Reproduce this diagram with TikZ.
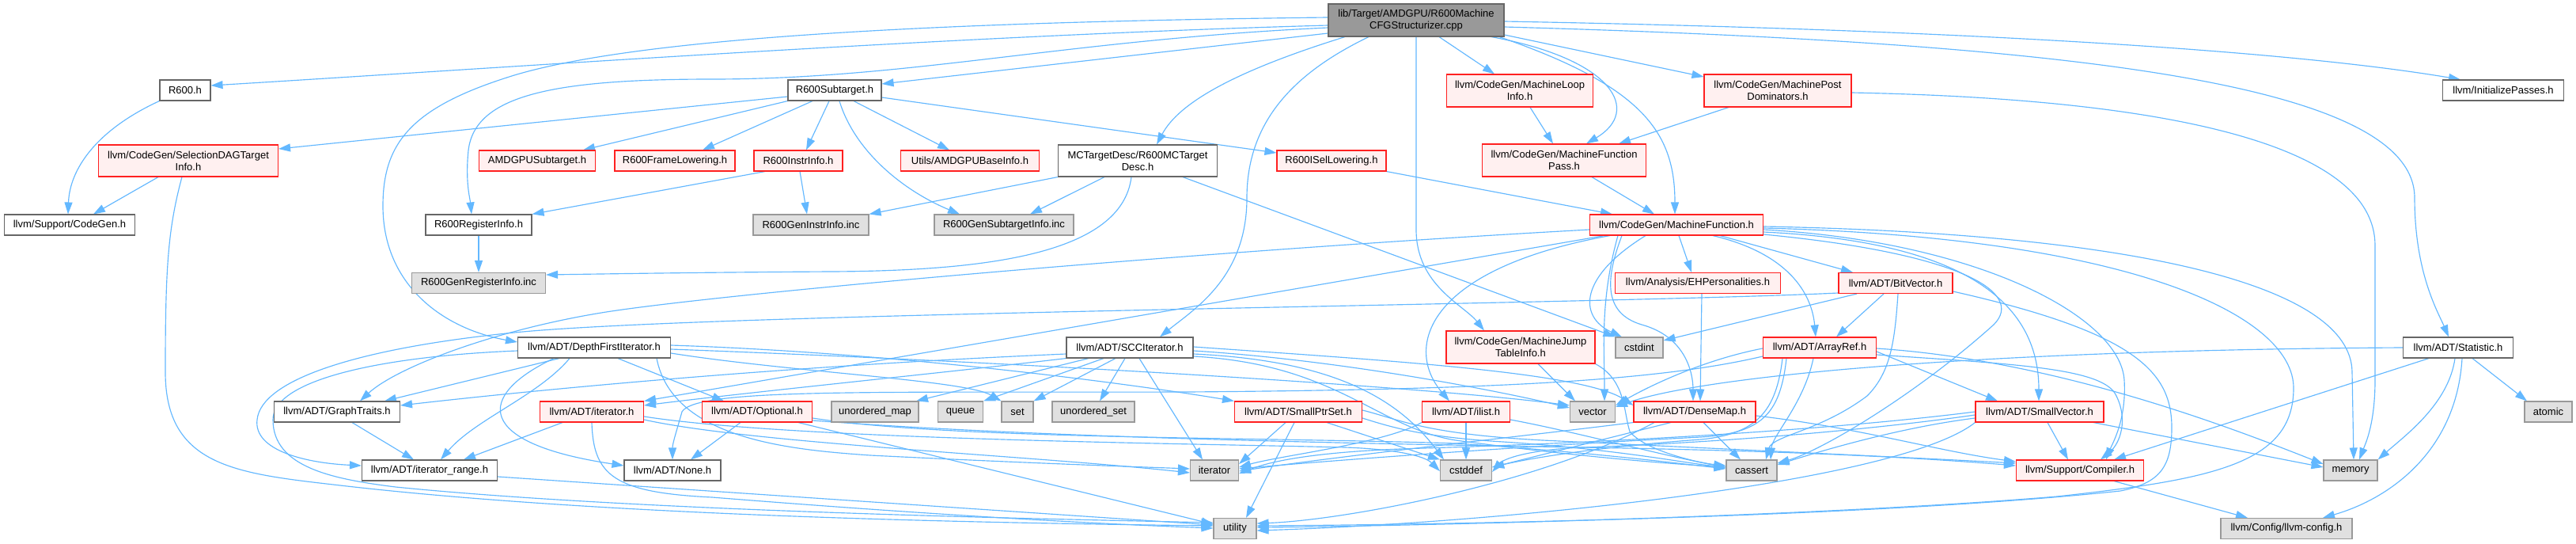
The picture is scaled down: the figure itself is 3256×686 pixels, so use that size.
\documentclass[tikz,border=0pt]{standalone}
\usepackage{fontspec}
\setmainfont{Liberation Sans}
\usetikzlibrary{arrows.meta}
\pgfdeclarelayer{back}
\pgfdeclarelayer{bg}
\pgfsetlayers{back,bg,main}
\definecolor{edgec}{HTML}{63B8FF}
\definecolor{redfill}{HTML}{FFF0F0}
\definecolor{redline}{HTML}{FF2020}
\definecolor{grayfill}{HTML}{E0E0E0}
\definecolor{grayline}{HTML}{999999}
\definecolor{darkline}{HTML}{666666}
\definecolor{topfill}{HTML}{999999}
\begin{document}
\begin{tikzpicture}[x=1pt,y=-1pt,
 box/.style={draw, line width=1.1pt, inner sep=0pt, minimum height=26pt, font=\fontsize{13}{15}\selectfont, align=center},
 wbox/.style={box, draw=darkline, fill=white},
 rbox/.style={box, draw=redline, fill=redfill},
 gbox/.style={box, draw=grayline, fill=grayfill},
 tbox/.style={box, draw=darkline, fill=topfill},
 dep/.style={draw=edgec, line width=1.15pt, -{Triangle[length=15pt,width=10pt]}},
]
\begin{pgfonlayer}{back}
\fill[white] (0,0) rectangle (3256,686);
\end{pgfonlayer}
\useasboundingbox (0,0) rectangle (3256,686);

% ---------- nodes ----------
\node[tbox, minimum width=222pt, minimum height=41pt] (T) at (1790,25.5) {lib/Target/AMDGPU/R600Machine\\CFGStructurizer.cpp};
\node[wbox, minimum width=64pt] (R600h) at (234,114) {R600.h};
\node[wbox, minimum width=118pt] (Sub) at (1055,114) {R600Subtarget.h};
\node[rbox, minimum width=185pt, minimum height=41pt] (MLI) at (1921,114.5) {llvm/CodeGen/MachineLoop\\Info.h};
\node[rbox, minimum width=186pt, minimum height=41pt] (MPD) at (2247,114.5) {llvm/CodeGen/MachinePost\\Dominators.h};
\node[wbox, minimum width=153pt] (IP) at (3164,114) {llvm/InitializePasses.h};
\node[rbox, minimum width=227pt, minimum height=40pt] (SDT) at (238,203) {llvm/CodeGen/SelectionDAGTarget\\Info.h};
\node[rbox, minimum width=147pt] (AMDSub) at (679,203) {AMDGPUSubtarget.h};
\node[rbox, minimum width=152pt] (FL) at (853,203) {R600FrameLowering.h};
\node[rbox, minimum width=112pt] (II) at (1009,203) {R600InstrInfo.h};
\node[rbox, minimum width=175pt] (BI) at (1226,203) {Utils/AMDGPUBaseInfo.h};
\node[wbox, minimum width=201pt, minimum height=40pt] (MCTD) at (1438,203) {MCTargetDesc/R600MCTarget\\Desc.h};
\node[rbox, minimum width=138pt] (ISel) at (1683,203) {R600ISelLowering.h};
\node[rbox, minimum width=207pt, minimum height=41pt] (MFP) at (1977,202.5) {llvm/CodeGen/MachineFunction\\Pass.h};
\node[wbox, minimum width=165pt] (CG) at (88,284) {llvm/Support/CodeGen.h};
\node[wbox, minimum width=134pt] (RI) at (605,284) {R600RegisterInfo.h};
\node[gbox, minimum width=146pt] (GII) at (1025,284) {R600GenInstrInfo.inc};
\node[gbox, minimum width=176pt] (GSI) at (1269,284) {R600GenSubtargetInfo.inc};
\node[rbox, minimum width=219pt] (MF) at (2119,284) {llvm/CodeGen/MachineFunction.h};
\node[gbox, minimum width=169pt] (GRI) at (605,357.5) {R600GenRegisterInfo.inc};
\node[rbox, minimum width=209pt] (EHP) at (2146,357.5) {llvm/Analysis/EHPersonalities.h};
\node[rbox, minimum width=144pt] (BV) at (2396,357.5) {llvm/ADT/BitVector.h};
\node[wbox, minimum width=193pt] (DFI) at (751,439) {llvm/ADT/DepthFirstIterator.h};
\node[wbox, minimum width=160pt] (SCC) at (1428,439) {llvm/ADT/SCCIterator.h};
\node[rbox, minimum width=188pt, minimum height=41pt] (MJTI) at (1922,438.5) {llvm/CodeGen/MachineJump\\TableInfo.h};
\node[gbox, minimum width=60pt] (cstdint) at (2072,439) {cstdint};
\node[rbox, minimum width=143pt] (AR) at (2300,439) {llvm/ADT/ArrayRef.h};
\node[wbox, minimum width=139pt] (Stat) at (3107,439) {llvm/ADT/Statistic.h};
\node[wbox, minimum width=159pt] (GT) at (426,520) {llvm/ADT/GraphTraits.h};
\node[rbox, minimum width=131pt] (ith) at (748,520) {llvm/ADT/iterator.h};
\node[rbox, minimum width=139pt] (Opt) at (957,520) {llvm/ADT/Optional.h};
\node[gbox, minimum width=110pt] (umap) at (1106,520) {unordered\_map};
\node[gbox, minimum width=57pt] (queue) at (1214,520) {queue};
\node[gbox, minimum width=40pt] (set) at (1286,520) {set};
\node[gbox, minimum width=104pt] (uset) at (1382,520) {unordered\_set};
\node[rbox, minimum width=161pt] (SPS) at (1641,520) {llvm/ADT/SmallPtrSet.h};
\node[rbox, minimum width=111pt] (ilist) at (1853,520) {llvm/ADT/ilist.h};
\node[gbox, minimum width=57pt] (vector) at (2013,520) {vector};
\node[rbox, minimum width=154pt] (DM) at (2142,520) {llvm/ADT/DenseMap.h};
\node[rbox, minimum width=162pt] (SV) at (2578,520) {llvm/ADT/SmallVector.h};
\node[gbox, minimum width=60pt] (atomic) at (3221,520) {atomic};
\node[wbox, minimum width=171pt] (itr) at (543,594) {llvm/ADT/iterator\_range.h};
\node[wbox, minimum width=122pt] (None) at (850,594) {llvm/ADT/None.h};
\node[gbox, minimum width=61pt] (iter) at (1535,594) {iterator};
\node[gbox, minimum width=65pt] (cstddef) at (1853,594) {cstddef};
\node[gbox, minimum width=64pt] (cassert) at (2214,594) {cassert};
\node[rbox, minimum width=161pt] (Comp) at (2629,594) {llvm/Support/Compiler.h};
\node[gbox, minimum width=68pt] (memory) at (2971,594) {memory};
\node[gbox, minimum width=54pt] (utility) at (1561,667.5) {utility};
\node[gbox, minimum width=166pt] (cfg) at (2890,667.5) {llvm/Config/llvm-config.h};

% ---------- edges ----------
\begin{pgfonlayer}{bg}
% top file
\draw[dep] (T.west |- 0,32) .. controls (1200,45) and (600,88) .. (R600h.east |- 0,108);
\draw[dep] (T.west |- 0,22) .. controls (1150,28) and (800,50) .. (650,95) .. controls (520,135) and (484,180) .. (484,260) .. controls (484,360) and (560,415) .. (DFI.west |- 0,432);
\draw[dep] (T.west |- 0,35) .. controls (1350,50) and (1150,100) .. (900,100) .. controls (700,100) and (600,120) .. (592,190) .. controls (588,230) and (594,250) .. (RI.north -| 596,0);
\draw[dep] (T.west |- 0,42) -- (Sub.east |- 0,106);
\draw[dep] (T.south -| 1700,0) .. controls (1560,90) and (1490,130) .. (MCTD.north -| 1462,0);
\draw[dep] (T.south -| 1730,0) .. controls (1640,90) and (1576,150) .. (1576,250) .. controls (1576,350) and (1510,390) .. (SCC.north -| 1466,0);
\draw[dep] (T.south -| 1790,0) -- (1790,290) .. controls (1790,360) and (1850,385) .. (MJTI.north -| 1876,0);
\draw[dep] (T.south -| 1819,0) -- (MLI.north -| 1889,0);
\draw[dep] (T.south -| 1885,0) .. controls (2040,75) and (2075,140) .. (MFP.north -| 2005,0);
\draw[dep] (T.south -| 1895,0) .. controls (2080,110) and (2117,170) .. (MF.north -| 2117,0);
\draw[dep] (T.east |- 0,44) -- (MPD.west |- 0,97);
\draw[dep] (T.east |- 0,27) .. controls (2500,38) and (2900,65) .. (IP.north -| 3110,0);
\draw[dep] (T.east |- 0,34) .. controls (2650,55) and (3052,110) .. (3052,250) .. controls (3052,345) and (3082,395) .. (Stat.north -| 3095,0);
% R600.h
\draw[dep] (R600h.south west) .. controls (120,165) and (88,215) .. (CG.north -| 86,0);
% R600Subtarget.h
\draw[dep] (Sub.west |- 0,122) -- (SDT.east |- 0,188);
\draw[dep] (Sub.south west) -- (AMDSub.north -| 737,0);
\draw[dep] (Sub.south -| 1027,0) -- (FL.north -| 888,0);
\draw[dep] (Sub.south -| 1048,0) -- (II.north -| 1019,0);
\draw[dep] (Sub.south -| 1061,0) .. controls (1080,190) and (1140,240) .. (GSI.north -| 1213,0);
\draw[dep] (Sub.south -| 1079,0) -- (BI.north -| 1200,0);
\draw[dep] (Sub.east |- 0,123) -- (ISel.west |- 0,193);
% MCTargetDesc
\draw[dep] (MCTD.south west) -- (GII.north east);
\draw[dep] (MCTD.south -| 1396,0) -- (GSI.north -| 1302,0);
\draw[dep] (MCTD.south -| 1430,0) .. controls (1418,320) and (1250,342) .. (1050,343) .. controls (880,344) and (760,346) .. (GRI.east |- 0,347);
\draw[dep] (MCTD.south -| 1495,0) -- (cstdint.north west);
% InstrInfo, RegisterInfo, SelectionDAG
\draw[dep] (II.south -| 967,0) -- (RI.north east);
\draw[dep] (II.south -| 1011,0) -- (GII.north -| 1020,0);
\draw[dep] (RI) -- (GRI);
\draw[dep] (SDT.south -| 200,0) -- (CG.north -| 118,0);
\draw[dep] (SDT.south -| 230,0) .. controls (212,290) and (209,340) .. (209,470) .. controls (209,590) and (300,598) .. (430,613) .. controls (750,650) and (1200,660) .. (utility.west |- 0,664);
% passes
\draw[dep] (ISel.south east) -- (MF.north -| 2038,0);
\draw[dep] (MFP.south -| 2012,0) -- (MF.north -| 2091,0);
\draw[dep] (MLI.south -| 1934,0) -- (MFP.north -| 1963,0);
\draw[dep] (MPD.south -| 2185,0) -- (MFP.north -| 2046,0);
\draw[dep] (MPD.east |- 0,117) .. controls (2750,125) and (3002,185) .. (3002,310) -- (3002,480) .. controls (3002,535) and (2990,560) .. (memory.north -| 2982,0);
% MachineFunction.h
\draw[dep] (MF.west |- 0,290) .. controls (1500,318) and (900,372) .. (760,395) .. controls (620,418) and (500,465) .. (GT.north -| 455,0);
\draw[dep] (MF.south -| 2028,0) -- (ith.north east);
\draw[dep] (MF.south -| 2035,0) .. controls (1800,340) and (1775,440) .. (ilist.north -| 1832,0);
\draw[dep] (MF.south -| 2080,0) .. controls (1995,350) and (1995,400) .. (cstdint.north -| 2050,0);
\draw[dep] (MF.south -| 2122,0) -- (EHP.north -| 2138,0);
\draw[dep] (MF.south -| 2050,0) .. controls (2030,350) and (2025,395) .. (2075,410) .. controls (2130,425) and (2140,470) .. (DM.north -| 2140,0);
\draw[dep] (MF.south -| 2165,0) .. controls (2260,320) and (2290,370) .. (AR.north -| 2295,0);
\draw[dep] (MF.south -| 2174,0) -- (BV.north -| 2342,0);
\draw[dep] (MF.east |- 0,293) .. controls (2480,305) and (2577,380) .. (SV.north -| 2577,0);
\draw[dep] (MF.east |- 0,290) .. controls (2500,305) and (2680,400) .. (2685,480) .. controls (2688,530) and (2670,560) .. (Comp.north -| 2662,0);
\draw[dep] (MF.east |- 0,286) .. controls (2700,295) and (2972,360) .. (2973,470) -- (memory.north -| 2975,0);
\draw[dep] (MF.east |- 0,288) .. controls (2700,300) and (2899,400) .. (2899,490) .. controls (2899,585) and (2800,605) .. (2600,627) .. controls (2300,652) and (1800,664) .. (utility.east |- 0,666);
\draw[dep] (MF.east |- 0,296) .. controls (2480,320) and (2560,370) .. (2520,410) .. controls (2420,500) and (2300,570) .. (cassert.east |- 0,585);
\draw[dep] (MF.south -| 2045,0) .. controls (2022,380) and (2028,440) .. (vector.north -| 2028,0);
\draw[dep] (EHP.south -| 2151,0) -- (DM.north -| 2149,0);
% DepthFirstIterator.h
\draw[dep] (DFI.south -| 707,0) -- (GT.north -| 486,0);
\draw[dep] (DFI.south -| 720,0) .. controls (680,500) and (600,530) .. (itr.north -| 557,0);
\draw[dep] (DFI.south -| 700,0) .. controls (600,500) and (600,560) .. (None.west |- 0,588);
\draw[dep] (DFI.west |- 0,443) .. controls (480,450) and (345,480) .. (345,530) .. controls (345,590) and (420,605) .. (500,615) .. controls (800,645) and (1300,655) .. (utility.west |- 0,660);
\draw[dep] (DFI.south -| 781,0) -- (Opt.north -| 915,0);
\draw[dep] (DFI.east |- 0,436) .. controls (1150,446) and (1450,488) .. (SPS.north west);
\draw[dep] (DFI.east |- 0,441) .. controls (1300,458) and (1800,488) .. (vector.west |- 0,512);
\draw[dep] (DFI.east |- 0,446) .. controls (1000,470) and (1220,480) .. (set.north west);
\draw[dep] (DFI.south -| 830,0) .. controls (850,555) and (1000,568) .. (1100,575) .. controls (1300,585) and (1450,590) .. (iter.west |- 0,592);
% SCCIterator.h
\draw[dep] (SCC.west |- 0,447) .. controls (1000,462) and (700,490) .. (GT.east |- 0,512);
\draw[dep] (SCC.south west) .. controls (1200,470) and (950,495) .. (ith.east |- 0,512);
\draw[dep] (SCC.south -| 1376,0) -- (umap.north -| 1158,0);
\draw[dep] (SCC.south -| 1395,0) -- (queue.north east);
\draw[dep] (SCC.south -| 1410,0) -- (set.north east);
\draw[dep] (SCC.south -| 1422,0) -- (uset.north -| 1390,0);
\draw[dep] (SCC.south -| 1440,0) -- (iter.north -| 1520,0);
\draw[dep] (SCC.east |- 0,438) .. controls (1750,455) and (2000,470) .. (DM.west |- 0,512);
\draw[dep] (SCC.east |- 0,443) .. controls (1700,455) and (1900,495) .. (vector.west |- 0,515);
\draw[dep] (SCC.east |- 0,447) .. controls (1680,455) and (1765,500) .. (cstddef.north -| 1825,0);
\draw[dep] (SCC.east |- 0,450) .. controls (1690,460) and (1740,540) .. (1840,556) .. controls (1980,575) and (2100,585) .. (cassert.west |- 0,590);
% Optional.h
\draw[dep] (Opt.south -| 936,0) -- (None.north -| 873,0);
\draw[dep] (Opt.south -| 1009,0) -- (utility.west |- 0,662);
\draw[dep] (Opt.east |- 0,528) .. controls (1200,555) and (1600,552) .. (1840,560) .. controls (2000,570) and (2120,585) .. (cassert.west |- 0,592);
\draw[dep] (Opt.east |- 0,531) .. controls (1300,552) and (1700,560) .. (2000,565) .. controls (2300,570) and (2450,580) .. (Comp.west |- 0,588);
% iterator.h
\draw[dep] (ith.south -| 711,0) -- (itr.north -| 586,0);
\draw[dep] (ith.south -| 748,0) .. controls (750,600) and (775,622) .. (900,628) .. controls (1200,652) and (1400,662) .. (utility.west |- 0,667);
\draw[dep] (ith.east |- 0,526) .. controls (1000,555) and (1500,560) .. (1700,565) .. controls (1760,567) and (1800,575) .. (cstddef.west |- 0,595);
\draw[dep] (ith.east |- 0,530) .. controls (950,560) and (1300,575) .. (iter.west |- 0,597);
% SmallPtrSet.h
\draw[dep] (SPS.south -| 1625,0) -- (iter.east |- 0,586);
\draw[dep] (SPS.south -| 1636,0) -- (utility.north -| 1575,0);
\draw[dep] (SPS.south -| 1677,0) -- (cstddef.north west);
\draw[dep] (SPS.east |- 0,528) .. controls (1760,540) and (1800,552) .. (1900,558) .. controls (2050,568) and (2130,585) .. (cassert.west |- 0,590);
\draw[dep] (SPS.east |- 0,518) .. controls (1770,530) and (1800,548) .. (1950,556) .. controls (2200,568) and (2420,578) .. (Comp.west |- 0,585);
% ilist.h
\draw[dep] (ilist.south -| 1853,0) -- (cstddef.north -| 1853,0);
\draw[dep] (ilist.south west) .. controls (1750,560) and (1620,575) .. (iter.east |- 0,590);
\draw[dep] (ilist.east |- 0,530) .. controls (1990,545) and (2100,575) .. (cassert.west |- 0,590);
% DenseMap.h
\draw[dep] (DM.south -| 2153,0) -- (cassert.north -| 2200,0);
\draw[dep] (DM.south -| 2112,0) -- (cstddef.east |- 0,590);
\draw[dep] (DM.south west) .. controls (1950,548) and (1700,575) .. (iter.east |- 0,595);
\draw[dep] (DM.south -| 2091,0) .. controls (1950,610) and (1700,657) .. (utility.east |- 0,661);
\draw[dep] (DM.east |- 0,525) .. controls (2350,540) and (2450,570) .. (Comp.west |- 0,583);
% MachineJumpTableInfo.h
\draw[dep] (MJTI.south -| 1944,0) -- (vector.north -| 1991,0);
\draw[dep] (MJTI.south east) .. controls (2055,480) and (2052,520) .. (2060,545) .. controls (2080,570) and (2150,585) .. (cassert.west |- 0,588);
% ArrayRef.h
\draw[dep] (AR.east |- 0,444) -- (SV.north -| 2525,0);
\draw[dep] (AR.west |- 0,450) .. controls (2100,480) and (1900,492) .. (1500,495) .. controls (1100,496) and (880,490) .. (862,520) .. controls (855,545) and (850,560) .. (None.north -| 850,0);
\draw[dep] (AR.east |- 0,448) .. controls (2550,460) and (2660,465) .. (2675,500) .. controls (2690,530) and (2680,560) .. (Comp.north -| 2655,0);
\draw[dep] (AR.east |- 0,440) .. controls (2600,455) and (2820,540) .. (memory.west |- 0,586);
\draw[dep] (AR.south -| 2292,0) .. controls (2280,510) and (2240,550) .. (cassert.north -| 2238,0);
\draw[dep] (AR.south -| 2253,0) .. controls (2245,520) and (2220,548) .. (2150,555) .. controls (2050,562) and (1950,575) .. (cstddef.east |- 0,590);
\draw[dep] (AR.south -| 2258,0) .. controls (2250,525) and (2225,547) .. (2150,552) .. controls (1950,562) and (1700,580) .. (iter.east |- 0,592);
\draw[dep] (AR.west |- 0,440) .. controls (2150,455) and (2080,490) .. (vector.east |- 0,512);
% BitVector.h
\draw[dep] (BV.south -| 2381,0) -- (AR.north -| 2321,0);
\draw[dep] (BV.south -| 2347,0) -- (cstdint.east |- 0,430);
\draw[dep] (BV.west |- 0,370) .. controls (2000,385) and (900,395) .. (650,420) .. controls (450,440) and (330,480) .. (325,530) .. controls (320,570) and (390,585) .. (itr.west |- 0,588);
\draw[dep] (BV.south -| 2399,0) .. controls (2395,430) and (2390,470) .. (2360,500) .. controls (2300,545) and (2240,550) .. (cassert.north -| 2232,0);
\draw[dep] (BV.east |- 0,368) .. controls (2700,420) and (2745,470) .. (2745,540) .. controls (2745,590) and (2730,610) .. (2680,620) .. controls (2400,650) and (1900,662) .. (utility.east |- 0,664);
% SmallVector.h
\draw[dep] (SV.south -| 2588,0) -- (Comp.north -| 2614,0);
\draw[dep] (SV.south -| 2646,0) -- (memory.west |- 0,590);
\draw[dep] (SV.west |- 0,528) .. controls (2400,540) and (2300,570) .. (cassert.east |- 0,587);
\draw[dep] (SV.west |- 0,524) .. controls (2350,545) and (2150,560) .. (2000,565) .. controls (1930,568) and (1900,580) .. (cstddef.east |- 0,596);
\draw[dep] (SV.west |- 0,520) .. controls (2300,545) and (2000,560) .. (1800,566) .. controls (1650,570) and (1600,585) .. (iter.east |- 0,598);
\draw[dep] (SV.south west) .. controls (2400,610) and (1900,660) .. (utility.east |- 0,670);
% Statistic.h
\draw[dep] (Stat.west |- 0,439) .. controls (2500,442) and (2150,475) .. (vector.east |- 0,514);
\draw[dep] (Stat.south -| 3070,0) -- (Comp.north -| 2672,0);
\draw[dep] (Stat.south -| 3103,0) .. controls (3095,510) and (3040,550) .. (memory.north east);
\draw[dep] (Stat.south -| 3112,0) .. controls (3105,570) and (3020,630) .. (cfg.north -| 2936,0);
\draw[dep] (Stat.south -| 3125,0) -- (atomic.north -| 3194,0);
% rest
\draw[dep] (Comp.south -| 2672,0) -- (cfg.north -| 2841,0);
\draw[dep] (GT.south -| 445,0) -- (itr.north -| 523,0);
\draw[dep] (itr.east |- 0,602) -- (utility.west |- 0,663);
\end{pgfonlayer}
\end{tikzpicture}
\end{document}
